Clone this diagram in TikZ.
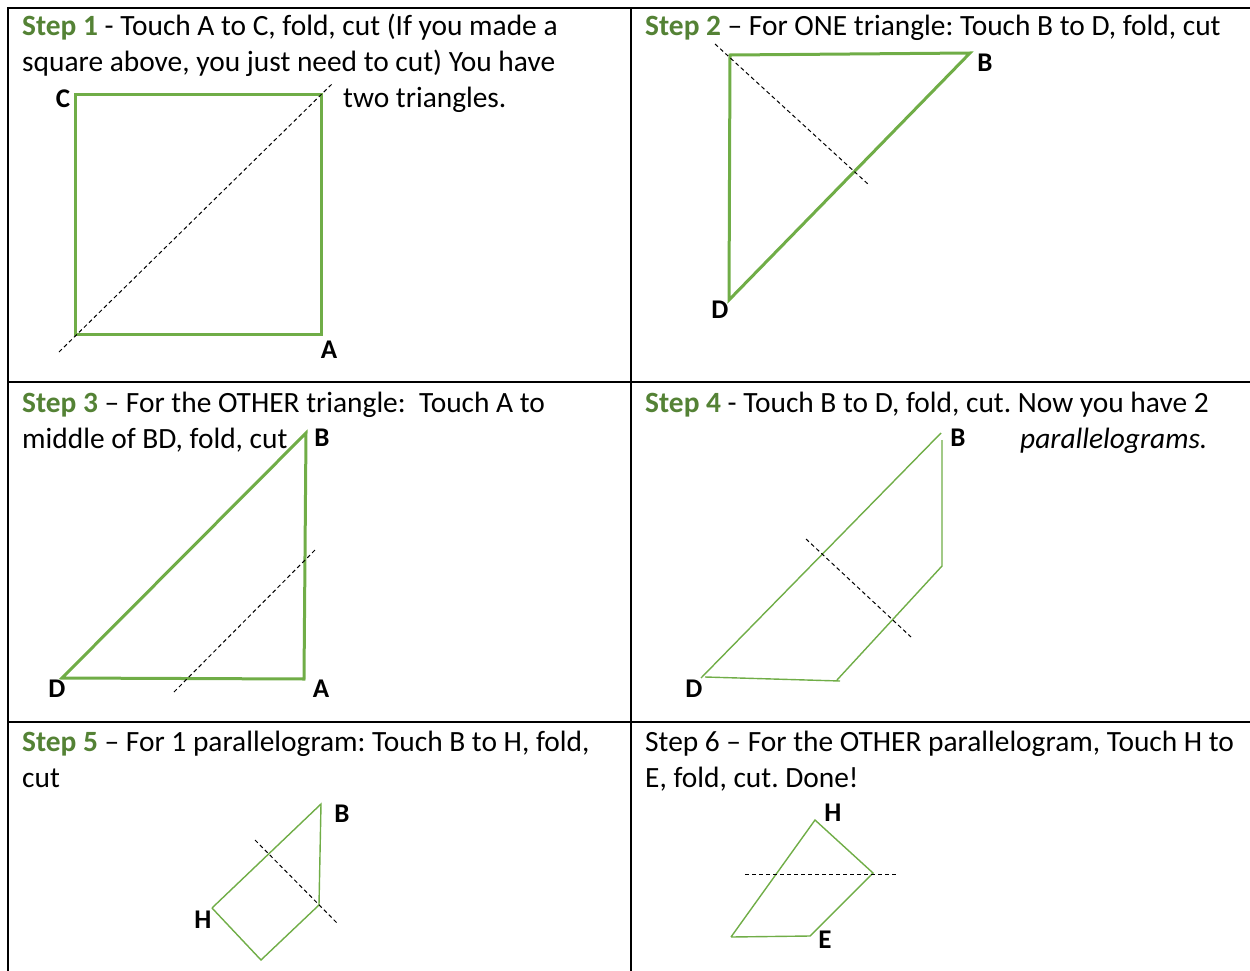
\documentclass[tikz,border=0pt]{standalone}
\usepackage{fontspec}
\setmainfont{Carlito}
\frenchspacing
\definecolor{stepgreen}{RGB}{84,130,53}
\definecolor{papergreen}{RGB}{112,173,71}
\usetikzlibrary{positioning}

\newcommand{\stepword}[1]{\textbf{\textcolor{stepgreen}{Step #1}}}

\begin{document}
\begin{tikzpicture}[x=1pt, y=-1pt,
  txt/.style={anchor=base west, inner sep=0pt, font=\fontsize{29.4}{36}\selectfont},
  lbl/.style={inner sep=0pt, font=\fontsize{27}{36}\selectfont\bfseries},
  thickedge/.style={papergreen, line width=3pt, line join=miter},
  thinedge/.style={papergreen, line width=1.4pt},
  foldline/.style={black, line width=1pt, dash pattern=on 4pt off 3pt},
  gridline/.style={black, line width=2pt}]
  \useasboundingbox (0,0) rectangle (1250,971);

  % table
  \draw[gridline] (1250,8) -- (8,8) -- (8,971);
  \draw[gridline] (631,8) -- (631,971);
  \draw[gridline] (8,382) -- (1250,382);
  \draw[gridline] (8,722) -- (1250,722);

  % step 1
  \node[txt] (s1a) at (22,36) {\stepword{1} - Touch A to C, fold, cut (If you made a};
  \node[txt] (s1b) at (22,72) {square above, you just need to cut) You have};
  \node[txt] (s1c) at (343,108) {two triangles.};
  \coordinate (c1) at (75,95);
  \coordinate (r1) at (321,95);
  \coordinate (a1) at (321,334);
  \coordinate (l1) at (75,334);
  \draw[thickedge] (c1) -- (r1) -- (a1) -- (l1) -- cycle;
  \draw[foldline] (59,352) -- (333,83);
  \node[lbl] (labC1) at (63,99) {C};
  \node[lbl] (labA1) at (329,350) {A};

  % step 2
  \node[txt] (s2a) at (645,36) {\stepword{2} – For ONE triangle: Touch B to D, fold, cut};
  \coordinate (t2) at (730,55);
  \coordinate (b2) at (970,53);
  \coordinate (d2) at (729,300);
  \draw[thickedge] (t2) -- (b2) -- (d2) -- cycle;
  \draw[foldline] (715,44) -- (869,185);
  \node[lbl] (labB2) at (985,63) {B};
  \node[lbl] (labD2) at (720,310) {D};

  % step 3
  \node[txt] (s3a) at (22,412) {\stepword{3} – For the OTHER triangle:\ \ Touch A to};
  \node[txt] (s3b) at (22,448) {middle of BD, fold, cut};
  \coordinate (b3) at (306,433);
  \coordinate (a3) at (304,679);
  \coordinate (d3) at (62,678);
  \draw[thickedge] (b3) -- (a3) -- (d3) -- cycle;
  \draw[foldline] (174,692) -- (316,549);
  \node[lbl] (labB3) at (322,438) {B};
  \node[lbl] (labD3) at (57,689) {D};
  \node[lbl] (labA3) at (321,689) {A};

  % step 4
  \node[txt] (s4a) at (645,412) {\stepword{4} - Touch B to D, fold, cut. Now you have 2};
  \node[txt] (s4b) at (1020,448) {\itshape parallelograms.};
  \coordinate (b4) at (941,433);
  \coordinate (v4) at (942,440);
  \coordinate (m4) at (942,566);
  \coordinate (e4) at (837,680);
  \coordinate (d4) at (701,678);
  \draw[thinedge] (d4) -- (b4);
  \draw[thinedge] (v4) -- (m4) -- (e4);
  \draw[thinedge] (705,677) -- (840,681);
  \draw[foldline] (806,539) -- (911,637);
  \node[lbl] (labB4) at (958,438) {B};
  \node[lbl] (labD4) at (694,689) {D};

  % step 5
  \node[txt] (s5a) at (22,751) {\stepword{5} – For 1 parallelogram: Touch B to H, fold,};
  \node[txt] (s5b) at (22,787) {cut};
  \coordinate (b5) at (321,804);
  \coordinate (k5) at (319,905);
  \coordinate (h5) at (212,908);
  \coordinate (f5) at (261,960);
  \draw[thinedge] (h5) -- (b5) -- (k5) -- (f5) -- (h5);
  \draw[foldline] (255,840) -- (337,923);
  \node[lbl] (labB5) at (342,814) {B};
  \node[lbl] (labH5) at (203,920) {H};

  % step 6
  \node[txt] (s6a) at (645,751) {Step 6 – For the OTHER parallelogram, Touch H to};
  \node[txt] (s6b) at (645,787) {E, fold, cut. Done!};
  \coordinate (h6) at (815,820);
  \coordinate (r6) at (873,873);
  \coordinate (e6) at (810,936);
  \coordinate (g6) at (731,937);
  \draw[thinedge] (g6) -- (h6) -- (r6) -- (e6) -- (g6);
  \draw[foldline] (745,874) -- (897,874);
  \node[lbl] (labH6) at (833,813) {H};
  \node[lbl] (labE6) at (825,940) {E};
\end{tikzpicture}
\end{document}
